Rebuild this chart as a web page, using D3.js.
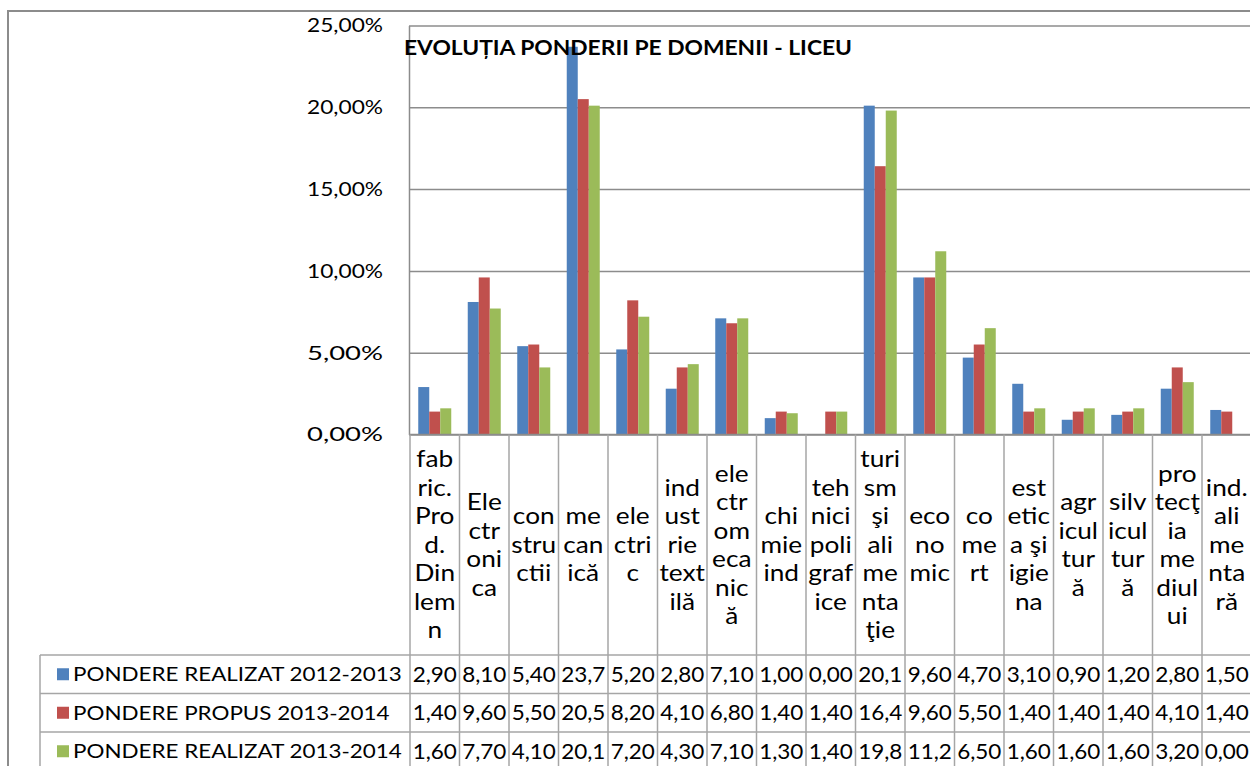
<!DOCTYPE html>
<html>
<head>
<meta charset="utf-8">
<script src="https://cdn.jsdelivr.net/npm/d3@7"></script>
<style>
  html, body { margin: 0; padding: 0; background: #fff; }
  svg { display: block; font-family: Lato, "Open Sans", sans-serif; }
</style>
</head>
<body>
<svg id="chart" width="1250" height="766"></svg>
<script>
// Domain names, pre-wrapped into the short lines shown in each table cell
const categories = [
  ["fab", "ric.", "Pro", "d.", "Din", "lem", "n"],
  ["Ele", "ctr", "oni", "ca"],
  ["con", "stru", "ctii"],
  ["me", "can", "ică"],
  ["ele", "ctri", "c"],
  ["ind", "ust", "rie", "text", "ilă"],
  ["ele", "ctr", "om", "eca", "nic", "ă"],
  ["chi", "mie", "ind"],
  ["teh", "nici", "poli", "graf", "ice"],
  ["turi", "sm", "şi", "ali", "me", "nta", "ţie"],
  ["eco", "no", "mic"],
  ["co", "me", "rt"],
  ["est", "etic", "a şi", "igie", "na"],
  ["agr", "icul", "tur", "ă"],
  ["silv", "icul", "tur", "ă"],
  ["pro", "tecţ", "ia", "me", "diul", "ui"],
  ["ind.", "ali", "me", "nta", "ră"]
];

const seriesNames = [
  "PONDERE REALIZAT 2012-2013",
  "PONDERE PROPUS 2013-2014",
  "PONDERE REALIZAT 2013-2014"
];

// Weights in percent
const realizat2012 = [2.90, 8.10, 5.40, 23.70, 5.20, 2.80, 7.10, 1.00, 0.00, 20.10, 9.60, 4.70, 3.10, 0.90, 1.20, 2.80, 1.50];
const propus2013   = [1.40, 9.60, 5.50, 20.50, 8.20, 4.10, 6.80, 1.40, 1.40, 16.40, 9.60, 5.50, 1.40, 1.40, 1.40, 4.10, 1.40];
const realizat2013 = [1.60, 7.70, 4.10, 20.10, 7.20, 4.30, 7.10, 1.30, 1.40, 19.80, 11.20, 6.50, 1.60, 1.60, 1.60, 3.20, 0.00];

const yTicks = [0, 5, 10, 15, 20, 25];
const title = "EVOLUȚIA PONDERII PE DOMENII - LICEU";
const colors = ["#4F81BD", "#C0504D", "#9BBB59"];

const series = [realizat2012, propus2013, realizat2013];

const svg = d3.select("#chart");

// layout
const plotLeft = 409, plotTop = 25.5, plotBottom = 434.5;
const colStart = 410, colWidth = 49.5;
const plotRight = colStart + categories.length * colWidth;
const labelRowBottom = 655;
const rowH = 38.5;
const legendLeft = 40;
const gridColor = "#8C8C8C";
const tableColor = "#A6A6A6";

// widen text horizontally by a factor, keeping its natural glyph shapes
function stretch(sel, k) {
  sel.each(function () {
    const w = this.getComputedTextLength();
    d3.select(this).attr("textLength", w * k).attr("lengthAdjust", "spacingAndGlyphs");
  });
}

const x = d3.scaleBand()
  .domain(d3.range(categories.length))
  .range([colStart, plotRight])
  .paddingInner(0).paddingOuter(0);

const x1 = d3.scaleBand()
  .domain(d3.range(series.length))
  .range([0, x.bandwidth()])
  .paddingInner(0).paddingOuter(0.75);

const y = d3.scaleLinear().domain([0, 25]).range([plotBottom, plotTop]);

// outer chart frame
svg.append("rect")
  .attr("x", 8).attr("y", 11)
  .attr("width", 1260).attr("height", 780)
  .attr("fill", "none").attr("stroke", gridColor).attr("stroke-width", 2);

// gridlines + y labels
const fmtPct = v => d3.format(".2f")(v).replace(".", ",") + "%";
const yAxis = svg.append("g")
  .attr("transform", `translate(${plotLeft},0)`)
  .call(d3.axisLeft(y).tickValues(yTicks).tickFormat(fmtPct)
    .tickSize(-(plotRight - plotLeft)).tickSizeOuter(0).tickPadding(26));
yAxis.select(".domain").attr("stroke", gridColor).attr("stroke-width", 1.5);
yAxis.selectAll(".tick line").attr("stroke", gridColor).attr("stroke-width", 1.5);
yAxis.selectAll(".tick text")
  .attr("fill", "#000").attr("font-size", 20)
  .attr("font-family", "Lato, sans-serif")
  .attr("textLength", 76).attr("lengthAdjust", "spacingAndGlyphs");

// bars
const groups = svg.append("g").selectAll("g")
  .data(series).join("g")
  .attr("fill", (d, i) => colors[i]);
groups.each(function (vals, si) {
  d3.select(this).selectAll("rect")
    .data(vals).join("rect")
    .attr("x", (v, ci) => x(ci) + x1(si))
    .attr("width", x1.bandwidth())
    .attr("y", v => y(v))
    .attr("height", v => y(0) - y(v));
});

// title over the plot
svg.append("text")
  .attr("x", 404).attr("y", 55)
  .attr("font-size", 21).attr("font-weight", "bold")
  .attr("font-family", "Lato, sans-serif")
  .attr("textLength", 448).attr("lengthAdjust", "spacingAndGlyphs")
  .text(title);

// data table
const table = svg.append("g").attr("stroke", tableColor).attr("stroke-width", 1.5);
const tableBottom = labelRowBottom + rowH * series.length;
table.append("line")
  .attr("x1", colStart).attr("x2", plotRight + 5)
  .attr("y1", plotBottom).attr("y2", plotBottom)
  .attr("stroke", gridColor);
d3.range(categories.length + 1).forEach(i => {
  const xx = colStart + i * colWidth;
  table.append("line")
    .attr("x1", xx).attr("x2", xx)
    .attr("y1", plotBottom).attr("y2", tableBottom);
});
d3.range(series.length + 1).forEach(r => {
  const yy = labelRowBottom + r * rowH;
  table.append("line")
    .attr("x1", legendLeft).attr("x2", plotRight + 5)
    .attr("y1", yy).attr("y2", yy);
});
table.append("line")
  .attr("x1", legendLeft).attr("x2", legendLeft)
  .attr("y1", labelRowBottom).attr("y2", tableBottom);

// category labels, centered in their cells
const lineH = 28.5;
const catMid = (plotBottom + labelRowBottom) / 2;
svg.append("g").selectAll("g")
  .data(categories).join("g")
  .each(function (lines, ci) {
    const g = d3.select(this);
    const y0 = catMid - (lines.length - 1) * lineH / 2;
    g.selectAll("text")
      .data(lines).join("text")
      .attr("font-size", 23)
      .attr("text-anchor", "middle")
      .attr("x", x(ci) + x.bandwidth() / 2)
      .attr("y", (ln, li) => y0 + li * lineH)
      .attr("dy", "0.35em")
      .text(ln => ln)
      .call(stretch, 1.14);
  });

// legend keys and series names
const legend = svg.append("g");
seriesNames.forEach((name, si) => {
  const cy = labelRowBottom + si * rowH + rowH / 2;
  legend.append("rect")
    .attr("x", 57).attr("y", cy - 6)
    .attr("width", 12).attr("height", 12)
    .attr("fill", colors[si]);
  legend.append("text")
    .attr("x", 73).attr("y", cy).attr("dy", "0.35em")
    .attr("font-size", 20)
    .text(name)
    .call(stretch, 1.12);
});

// table values (cells too narrow for the last digit of values >= 10)
const fmtCell = v => (v >= 10 ? d3.format(".1f")(v) : d3.format(".2f")(v)).replace(".", ",");
series.forEach((vals, si) => {
  const cy = labelRowBottom + si * rowH + rowH / 2;
  svg.append("g").selectAll("text")
    .data(vals).join("text")
    .attr("x", (v, ci) => x(ci) + x.bandwidth() / 2)
    .attr("y", cy).attr("dy", "0.35em")
    .attr("text-anchor", "middle")
    .attr("font-size", 21)
    .text(fmtCell)
    .call(stretch, 1.07);
});
</script>
</body>
</html>
